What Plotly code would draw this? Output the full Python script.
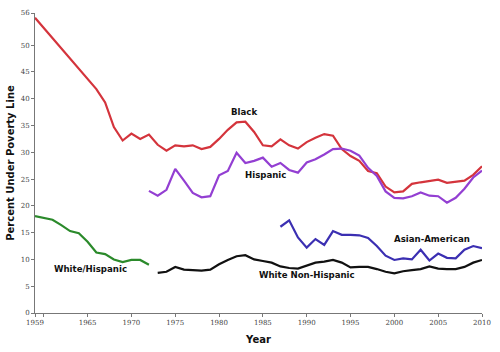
import plotly.graph_objects as go

black_years = [1959] + list(range(1966, 2011))
black_vals = [55.1, 41.8, 39.3, 34.7, 32.2, 33.5, 32.5, 33.3, 31.4, 30.3, 31.3, 31.1, 31.3,
              30.6, 31.0, 32.5, 34.2, 35.6, 35.7, 33.8, 31.3, 31.1, 32.4, 31.3, 30.7, 31.9,
              32.7, 33.4, 33.1, 30.6, 29.3, 28.4, 26.5, 26.1, 23.6, 22.5, 22.7, 24.1, 24.4,
              24.7, 24.9, 24.3, 24.5, 24.7, 25.8, 27.4]

hisp_years = list(range(1972, 2011))
hisp_vals = [22.8, 21.9, 23.0, 26.9, 24.7, 22.4, 21.6, 21.8, 25.7, 26.5, 29.9, 28.0, 28.4,
             29.0, 27.3, 28.0, 26.7, 26.2, 28.1, 28.7, 29.6, 30.6, 30.7, 30.3, 29.4, 27.1,
             25.6, 22.7, 21.5, 21.4, 21.8, 22.5, 21.9, 21.8, 20.6, 21.5, 23.2, 25.3, 26.6]

asian_years = list(range(1987, 2011))
asian_vals = [16.1, 17.3, 14.1, 12.2, 13.8, 12.7, 15.3, 14.6, 14.6, 14.5, 14.0, 12.5, 10.7,
              9.9, 10.2, 10.0, 11.8, 9.8, 11.1, 10.3, 10.2, 11.8, 12.5, 12.1]

wnh_years = list(range(1973, 2011))
wnh_vals = [7.5, 7.7, 8.6, 8.1, 8.0, 7.9, 8.1, 9.1, 9.9, 10.6, 10.8, 10.0, 9.7, 9.4, 8.7,
            8.4, 8.3, 8.8, 9.4, 9.6, 9.9, 9.4, 8.5, 8.6, 8.6, 8.2, 7.7, 7.4, 7.8, 8.0, 8.2,
            8.7, 8.3, 8.2, 8.2, 8.6, 9.4, 9.9]

white_years = list(range(1959, 1973))
white_vals = [18.1, 17.8, 17.4, 16.4, 15.3, 14.9, 13.3, 11.3, 11.0, 10.0, 9.5, 9.9, 9.9, 9.0]

x_tickvals = [1959, 1960, 1965, 1970, 1975, 1980, 1985, 1990, 1995, 2000, 2005, 2010]
x_ticktext = ["1959", "", "1965", "1970", "1975", "1980", "1985", "1990", "1995", "2000", "2005", "2010"]
y_tickvals = [0, 5, 10, 15, 20, 25, 30, 35, 40, 45, 50, 56]
y_ticktext = ["0", "5", "10", "15", "20", "25", "30", "35", "40", "45", "50", "56"]

series = [
    (black_years, black_vals, "#d4343c", "Black"),
    (hisp_years, hisp_vals, "#933fd2", "Hispanic"),
    (asian_years, asian_vals, "#3b2fb2", "Asian-American"),
    (wnh_years, wnh_vals, "#111111", "White Non-Hispanic"),
    (white_years, white_vals, "#2b8a2b", "White/Hispanic"),
]

labels = [
    ("Black", 1982.9, 37.6),
    ("Hispanic", 1985.3, 25.8),
    ("Asian-American", 2004.3, 13.8),
    ("White Non-Hispanic", 1990.0, 7.1),
    ("White/Hispanic", 1965.3, 8.2),
]

fig = go.Figure()
for xs, ys, col, name in series:
    fig.add_trace(go.Scatter(x=xs, y=ys, mode="lines", name=name,
                             line=dict(color=col, width=2.2), hoverinfo="skip"))

for text, lx, ly in labels:
    fig.add_annotation(x=lx, y=ly, text="<b>" + text + "</b>", showarrow=False,
                       font=dict(family="DejaVu Sans", size=8.6, color="#111111"),
                       xanchor="center", yanchor="middle")

fig.update_layout(
    width=500, height=352,
    margin=dict(l=35, r=12, t=9, b=35),
    plot_bgcolor="white", paper_bgcolor="white",
    showlegend=False,
    font=dict(family="DejaVu Sans"),
    xaxis=dict(range=[1959, 2010], tickvals=x_tickvals, ticktext=x_ticktext,
               showgrid=False, zeroline=False, showline=True, linecolor="#777777",
               linewidth=1, ticks="outside", ticklen=3, tickcolor="#777777",
               tickfont=dict(size=7, color="#444444", family="DejaVu Serif"),
               title=dict(text="<b>Year</b>", font=dict(size=10, color="#111111"), standoff=9)),
    yaxis=dict(range=[0, 56], tickvals=y_tickvals, ticktext=y_ticktext,
               showgrid=False, zeroline=False, showline=True, linecolor="#777777",
               linewidth=1, ticks="outside", ticklen=3, tickcolor="#777777",
               tickfont=dict(size=7, color="#444444", family="DejaVu Serif"),
               title=dict(text="<b>Percent Under Poverty Line</b>", font=dict(size=10, color="#111111"), standoff=4)),
)

fig.write_html("out.html")
